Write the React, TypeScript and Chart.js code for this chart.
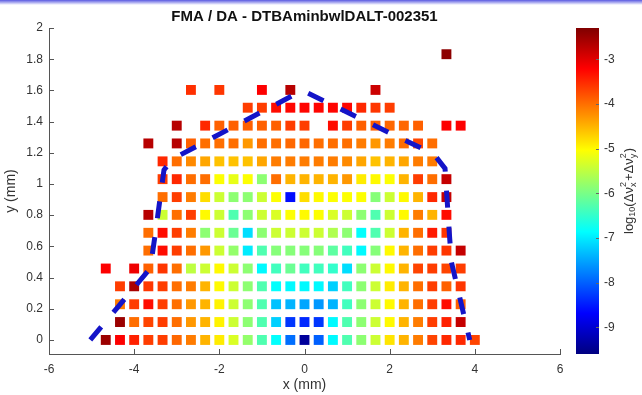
import React, { useEffect, useRef } from 'react';
import { Chart, registerables } from 'chart.js';

Chart.register(...registerables);

const chartTitle = 'FMA / DA - DTBAminbwlDALT-002351';
const xTitle = 'x (mm)';
const yTitle = 'y (mm)';

const xTicks = [-6, -4, -2, 0, 2, 4, 6];
const yTicks = [0, 0.2, 0.4, 0.6, 0.8, 1, 1.2, 1.4, 1.6, 1.8, 2];
const cbTicks = [-9, -8, -7, -6, -5, -4, -3];
const cbMin = -9.6;
const cbMax = -2.3;

// grid columns (mm) and rows (mm)
const xCols = [-4.667, -4.333, -4.0, -3.667, -3.333, -3.0, -2.667, -2.333, -2.0, -1.667, -1.333, -1.0, -0.667, -0.333, 0.0, 0.333, 0.667, 1.0, 1.333, 1.667, 2.0, 2.333, 2.667, 3.0, 3.333, 3.667, 4.0];
const yRows = [0, 0.115, 0.229, 0.344, 0.458, 0.573, 0.687, 0.802, 0.916, 1.031, 1.145, 1.26, 1.374, 1.489, 1.603, 1.718, 1.832];

const N = null;
// log10(dnux^2 + dnuy^2), one array per row (bottom to top), null = lost particle
const row0 = [-2.5, -3.2, -3.45, -3.65, -3.65, -3.95, -4.1, -4.5, -4.9, -5.3, -5.8, -6.3, -6.85, -7.9, -9.4, -8.0, -6.9, -6.3, -5.85, -5.4, -4.85, -4.5, -4.1, -3.7, -3.5, -3.5, -3.7];
const row1 = [N, -2.5, -4.0, -3.7, -3.65, -4.0, -4.3, -4.5, -4.95, -5.4, -5.85, -6.3, -7.2, -8.3, -8.4, -8.3, -6.9, -6.3, -5.85, -5.4, -5.0, -4.5, -4.1, -3.65, -3.45, -2.8, N];
const row2 = [N, -4.1, -3.65, -3.3, -3.65, -4.0, -4.3, -4.5, -4.95, -5.4, -5.85, -6.3, -7.3, -7.4, -7.5, -7.6, -7.4, -6.4, -5.85, -5.4, -5.0, -4.5, -4.0, -3.65, -3.3, -3.9, N];
const row3 = [N, -3.65, -2.6, -3.6, -3.65, -4.0, -4.1, -4.5, -5.0, -5.4, -5.85, -6.3, -6.85, -6.9, -6.9, -6.9, -7.2, -6.4, -5.85, -5.4, -4.9, -4.5, -4.0, -3.65, -3.9, -3.6, N];
const row4 = [-3.2, N, -3.1, -3.9, -3.6, -4.0, -5.5, -5.4, -5.0, -5.4, -5.85, -6.9, -6.4, -6.1, -6.4, -6.4, -6.5, -7.1, -5.85, -5.4, -5.0, -4.5, -3.7, -3.65, -3.7, -3.65, N];
const row5 = [N, N, N, -4.0, -3.3, -3.65, -4.0, -4.3, -5.4, -5.8, -7.0, -6.3, -5.9, -5.9, -5.9, -5.9, -6.2, -6.4, -6.9, -5.9, -5.0, -4.5, -4.0, -3.65, -3.6, -2.8, N];
const row6 = [N, N, N, -4.0, -3.3, -3.65, -4.1, -5.85, -5.4, -6.1, -7.1, -5.85, -5.4, -5.4, -5.4, -5.4, -5.6, -5.85, -6.85, -6.3, -5.4, -4.5, -4.0, -3.4, -3.6, N, N];
const row7 = [N, N, N, -2.7, -5.4, -4.0, -3.65, -5.0, -5.4, -6.3, -5.85, -5.4, -5.3, -5.05, -5.0, -5.05, -5.3, -5.4, -5.85, -6.3, -5.4, -5.0, -4.1, -4.5, -3.3, N, N];
const row8 = [N, N, N, N, -4.0, -3.65, -4.1, -4.8, -5.4, -5.85, -5.85, -5.4, -5.05, -8.6, -4.8, -5.0, -5.05, -5.05, -5.05, -5.9, -5.4, -5.0, -4.5, -3.5, -2.8, N, N];
const row9 = [N, N, N, N, -3.65, -3.5, -4.0, -4.0, -5.05, -5.2, -5.05, -5.85, -4.0, -4.5, -4.5, -4.5, -4.5, -4.3, -4.9, -5.0, -5.05, -4.5, -3.65, -4.0, -2.8, N, N];
const row10 = [N, N, N, N, -3.5, -4.0, -4.2, -4.4, -4.6, -4.6, -4.6, -4.4, -4.1, -4.1, -4.1, -4.1, -4.1, -4.2, -4.4, -4.6, -4.5, -4.4, -4.1, -4.1, N, N, N];
const row11 = [N, N, N, -2.7, N, -2.7, -3.9, -4.0, -4.0, -4.0, -4.3, -4.0, -4.0, -3.95, -3.95, -4.0, -4.0, -4.0, -4.1, -4.3, -4.1, -4.0, -3.7, -4.0, N, N, N];
const row12 = [N, N, N, N, N, -2.7, N, -3.5, -3.9, -3.9, -3.9, -3.9, -3.9, -3.65, -3.65, N, -3.3, -3.65, -3.9, -3.9, -3.95, -3.95, -3.9, N, -3.2, -3.2, N];
const row13 = [N, N, N, N, N, N, N, N, N, N, -3.65, -3.65, -3.3, -3.25, -3.25, -3.25, -3.25, -3.25, -3.5, -3.6, -3.65, N, N, N, N, N, N];
const row14 = [N, N, N, N, N, N, -3.55, N, -3.6, N, N, -3.2, N, -2.7, N, N, N, N, N, -2.85, N, N, N, N, N, N, N];
const row15 = [N, N, N, N, N, N, N, N, N, N, N, N, N, N, N, N, N, N, N, N, N, N, N, N, N, N, N];
const row16 = [N, N, N, N, N, N, N, N, N, N, N, N, N, N, N, N, N, N, N, N, N, N, N, N, -2.4, N, N];
const rows = [row0, row1, row2, row3, row4, row5, row6, row7, row8, row9, row10, row11, row12, row13, row14, row15, row16];

// dynamic aperture boundary (dashed line)
const daX = [-5.03, -3.62, -3.5, -3.3, -3.1, -0.05, 3.04, 3.3, 3.41, 3.45, 3.88];
const daY = [0.0, 0.46, 0.69, 1.09, 1.16, 1.6, 1.19, 1.1, 0.65, 0.5, 0.0];

const FONT = '"Liberation Sans", Arial, Helvetica, sans-serif';

function clamp01(v: number) {
  return Math.max(0, Math.min(1, v));
}
function jet(t: number) {
  const r = clamp01(1.5 - Math.abs(4 * t - 3));
  const g = clamp01(1.5 - Math.abs(4 * t - 2));
  const b = clamp01(1.5 - Math.abs(4 * t - 1));
  return `rgb(${Math.round(r * 255)},${Math.round(g * 255)},${Math.round(b * 255)})`;
}
function colorFor(v: number) {
  return jet(clamp01((v - cbMin) / (cbMax - cbMin)));
}

const extras = {
  id: 'extras',
  beforeDraw(chart: any) {
    const ctx = chart.ctx;
    ctx.save();
    const g = ctx.createLinearGradient(0, 0, 0, 5);
    g.addColorStop(0, 'rgba(90,90,225,1)');
    g.addColorStop(1, 'rgba(90,90,225,0)');
    ctx.fillStyle = g;
    ctx.fillRect(0, 0, chart.width, 5);
    ctx.restore();
  },
  afterDraw(chart: any) {
    const ctx = chart.ctx;
    const xs = chart.scales.x;
    const ys = chart.scales.y;
    const cb = chart.scales.cb;
    const ca = chart.chartArea;
    ctx.save();
    // inward tick marks
    ctx.strokeStyle = '#555';
    ctx.lineWidth = 1;
    ctx.beginPath();
    for (const t of ys.ticks) {
      const py = Math.round(ys.getPixelForValue(t.value)) + 0.5;
      ctx.moveTo(ca.left, py);
      ctx.lineTo(ca.left + 5, py);
    }
    for (const t of xs.ticks) {
      const px = Math.round(xs.getPixelForValue(t.value)) + 0.5;
      ctx.moveTo(px, ca.bottom);
      ctx.lineTo(px, ca.bottom - 5);
    }
    ctx.stroke();

    // colour bar
    const x0 = cb.left + 16;
    const w = 23;
    const yTop = cb.getPixelForValue(cbMax);
    const yBot = cb.getPixelForValue(cbMin);
    const grad = ctx.createLinearGradient(0, yBot, 0, yTop);
    for (let i = 0; i <= 64; i++) grad.addColorStop(i / 64, jet(i / 64));
    ctx.fillStyle = grad;
    ctx.fillRect(x0, yTop, w, yBot - yTop);
    ctx.strokeStyle = '#666';
    ctx.beginPath();
    for (const v of cbTicks) {
      const py = Math.round(cb.getPixelForValue(v)) + 0.5;
      ctx.moveTo(x0 + w, py);
      ctx.lineTo(x0 + w - 3, py);
    }
    ctx.stroke();

    // colour bar label with sub/superscripts
    const big = 13;
    const small = 9;
    type Piece = { t?: string; sub?: string; sup?: string; size: number; dy?: number };
    const pieces: Piece[] = [
      { t: 'log', size: big },
      { t: '10', size: small, dy: 3.5 },
      { t: '(Δν', size: big },
      { sup: '2', sub: 'x', size: small },
      { t: '+Δν', size: big },
      { sup: '2', sub: 'y', size: small },
      { t: ')', size: big },
    ];
    const widths = pieces.map((p) => {
      ctx.font = `${p.size}px ${FONT}`;
      if (p.t) return ctx.measureText(p.t).width;
      return Math.max(ctx.measureText(p.sup || '').width, ctx.measureText(p.sub || '').width) + 1;
    });
    const total = widths.reduce((a, b) => a + b, 0);
    ctx.translate(629, (yTop + yBot) / 2);
    ctx.rotate(-Math.PI / 2);
    ctx.fillStyle = '#333';
    ctx.textBaseline = 'middle';
    ctx.textAlign = 'left';
    let cx = -total / 2;
    pieces.forEach((p, i) => {
      ctx.font = `${p.size}px ${FONT}`;
      if (p.t) {
        ctx.fillText(p.t, cx, p.dy || 0);
      } else {
        ctx.fillText(p.sup || '', cx, -5);
        ctx.fillText(p.sub || '', cx, 5);
      }
      cx += widths[i];
    });
    ctx.restore();
  },
};

export default function App() {
  const ref = useRef<HTMLCanvasElement | null>(null);

  useEffect(() => {
    document.body.style.margin = '0';
    const canvas = ref.current;
    if (!canvas) return;

    const cells: { x: number; y: number; v: number }[] = [];
    rows.forEach((row, j) => {
      row.forEach((v, k) => {
        if (v !== null && v !== undefined) cells.push({ x: xCols[k], y: yRows[j], v: v as number });
      });
    });
    const boundary = daX.map((x, i) => ({ x, y: daY[i] }));

    const tickFont = { family: FONT, size: 12 };

    const chart = new Chart(canvas, {
      type: 'scatter',
      data: {
        datasets: [
          {
            label: 'DA',
            data: boundary,
            showLine: true,
            borderColor: '#1414c8',
            borderWidth: 5,
            borderDash: [17, 19],
            pointRadius: 0,
            fill: false,
            tension: 0,
            order: 0,
          } as any,
          {
            label: 'tune diffusion',
            data: cells,
            pointStyle: 'rect',
            pointRadius: 7,
            borderWidth: 0,
            backgroundColor: (c: any) => (c.raw ? colorFor(c.raw.v) : 'rgba(0,0,0,0)'),
            order: 1,
          } as any,
        ],
      },
      options: {
        responsive: false,
        animation: false,
        events: [],
        layout: { padding: 0, autoPadding: false },
        plugins: {
          legend: { display: false },
          tooltip: { enabled: false },
          title: {
            display: true,
            text: chartTitle,
            fullSize: false,
            color: '#111',
            font: { family: FONT, size: 15, weight: 'bold' },
            padding: { top: 8, bottom: 2 },
          },
        },
        scales: {
          x: {
            type: 'linear',
            min: -6,
            max: 6,
            afterBuildTicks: (s: any) => {
              s.ticks = xTicks.map((v) => ({ value: v }));
            },
            afterFit: (s: any) => {
              s.height = 41;
            },
            grid: { display: false, drawTicks: false },
            border: { display: true, color: '#555', width: 1 },
            ticks: { font: tickFont, color: '#333', padding: 8, maxRotation: 0, callback: (v: any) => String(v) },
            title: { display: true, text: xTitle, color: '#333', font: { family: FONT, size: 14 }, padding: { top: 0, bottom: 1 } },
          },
          y: {
            type: 'linear',
            min: -0.09,
            max: 2,
            afterBuildTicks: (s: any) => {
              s.ticks = yTicks.map((v) => ({ value: v }));
            },
            afterFit: (s: any) => {
              s.width = 49;
            },
            grid: { display: false, drawTicks: false },
            border: { display: true, color: '#555', width: 1 },
            ticks: { font: tickFont, color: '#333', padding: 6, callback: (v: any) => String(Math.round(Number(v) * 10) / 10) },
            title: { display: true, text: yTitle, color: '#333', font: { family: FONT, size: 14 }, padding: { top: 3, bottom: 0 } },
          },
          cb: {
            type: 'linear',
            position: 'right',
            axis: 'y',
            min: cbMin,
            max: cbMax,
            afterBuildTicks: (s: any) => {
              s.ticks = cbTicks.map((v) => ({ value: v }));
            },
            afterFit: (s: any) => {
              s.width = 82;
            },
            grid: { display: false, drawTicks: true, tickLength: 40 },
            border: { display: false },
            ticks: { font: tickFont, color: '#333', padding: 4, callback: (v: any) => String(v) },
          },
        } as any,
      },
      plugins: [extras],
    });

    return () => chart.destroy();
  }, []);

  return (
    <div style={{ width: 642, height: 395 }}>
      <canvas ref={ref} width={642} height={395} style={{ display: 'block' }} />
    </div>
  );
}
